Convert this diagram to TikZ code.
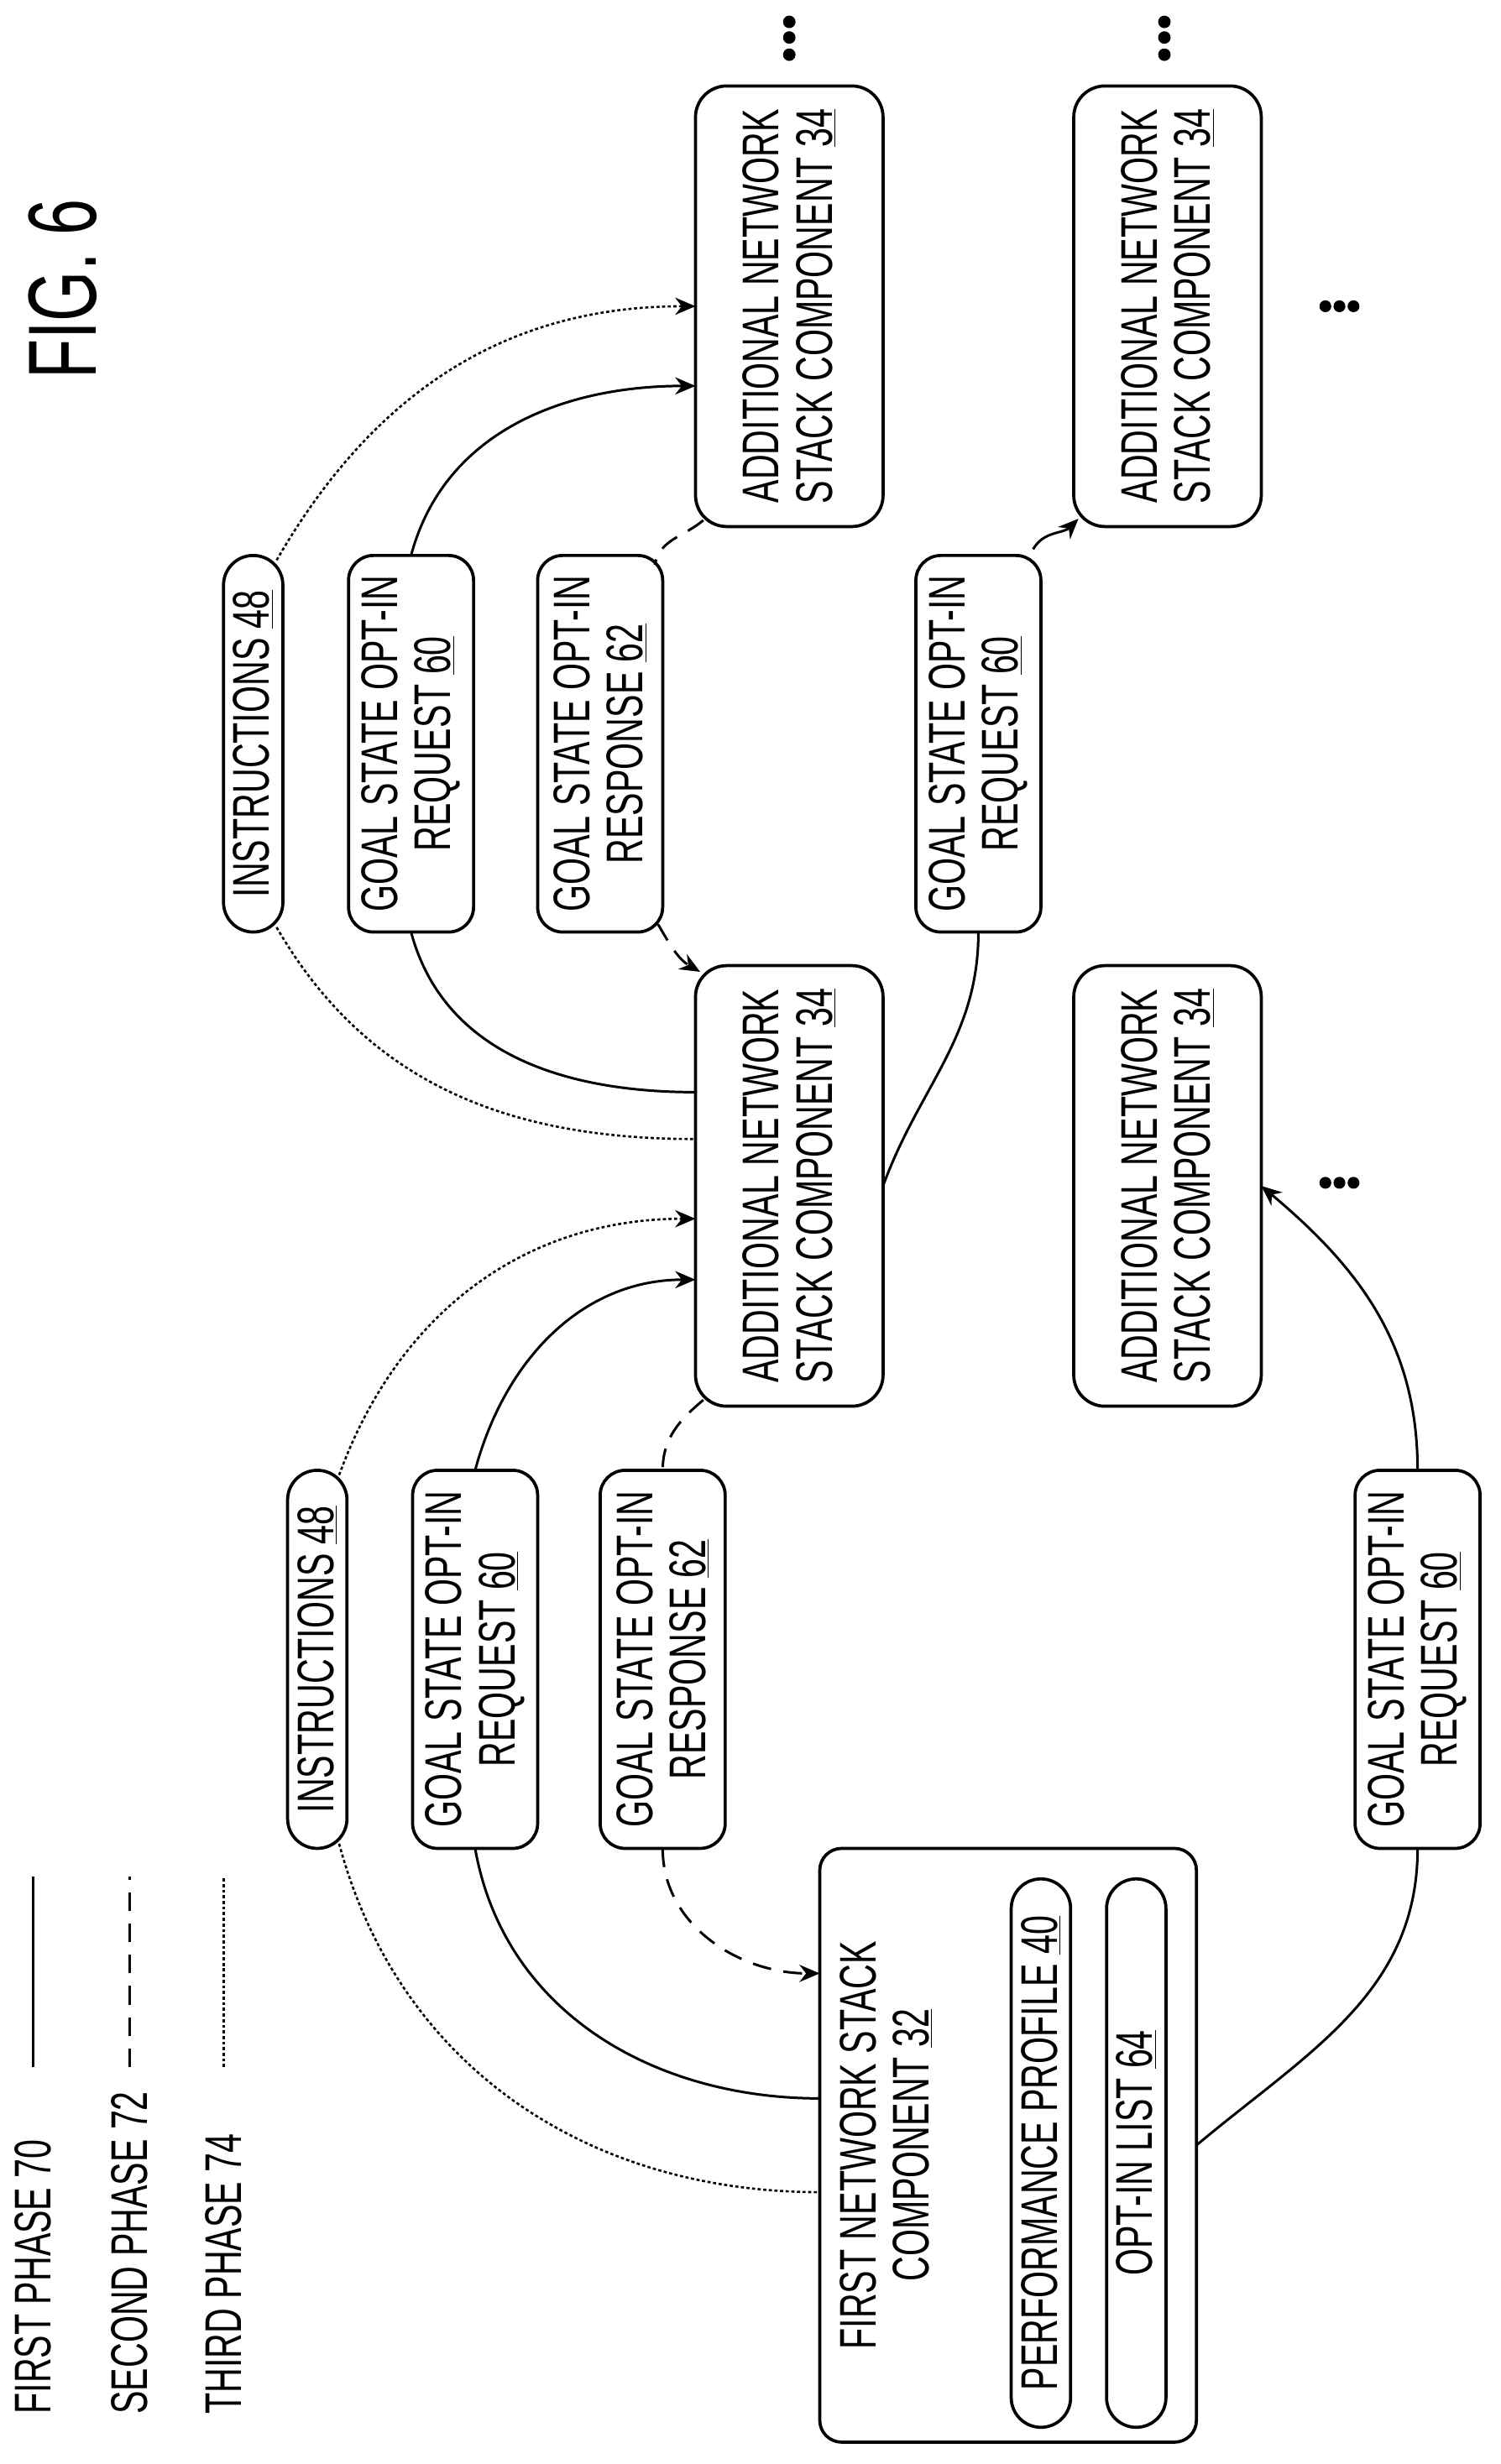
\documentclass[tikz,border=0pt]{standalone}
\usepackage{fontspec}
\setmainfont{Liberation Sans}[FakeStretch=0.67]
\usetikzlibrary{arrows.meta,calc}
\begin{document}
\begin{tikzpicture}[x=1pt,y=1pt,inner sep=0pt,outer sep=0pt,
font=\fontsize{33}{34}\selectfont,
phA/.style={line width=1.6pt},
phB/.style={line width=1.6pt,dash pattern=on 12pt off 8pt},
phC/.style={line width=1.4pt,dash pattern=on 2pt off 1.6pt},
tip/.style={-{Stealth[length=13pt,width=11pt]}},
comp/.style={draw,line width=2pt,rounded corners=20pt,rotate=90,align=center,minimum width=282pt,minimum height=120pt},
msg/.style={draw,line width=2pt,rounded corners=16pt,rotate=90,align=center,minimum width=242pt,minimum height=80pt},
pill/.style={draw,line width=2pt,rounded corners=19pt,rotate=90,align=center,minimum height=38pt},
legtxt/.style={rotate=90,anchor=west}]
\useasboundingbox (0,0) rectangle (960,-1577);

% title and legend
\node[rotate=90,font=\fontsize{62}{64}\selectfont] (fig) at (40,-185) {FIG. 6};
\node[legtxt] (legA) at (21,-1545) {FIRST PHASE 70};
\node[legtxt] (legB) at (83,-1545) {SECOND PHASE 72};
\node[legtxt] (legC) at (143,-1545) {THIRD PHASE 74};
\coordinate (legA1) at (21,-1323); \coordinate (legA2) at (21,-1201);
\coordinate (legB1) at (83,-1323); \coordinate (legB2) at (83,-1201);
\coordinate (legC1) at (143,-1323); \coordinate (legC2) at (143,-1201);
\draw[phA] (legA1) -- (legA2);
\draw[phB] (legB1) -- (legB2);
\draw[phC] (legC1) -- (legC2);

% first network stack component
\node[draw,line width=2pt,rounded corners=14pt,rotate=90,minimum width=380pt,minimum height=241pt] (first) at (645,-1373) {};
\node[rotate=90,align=center] (firsttxt) at (567,-1373) {FIRST NETWORK STACK\\COMPONENT \underline{32}};
\node[pill,minimum width=351pt] (perf) at (666,-1378) {PERFORMANCE PROFILE \underline{40}};
\node[pill,minimum width=351pt] (optin) at (727,-1378) {OPT-IN LIST \underline{64}};

% messages, lower row
\node[pill,minimum width=242pt] (instrA) at (203,-1062) {INSTRUCTIONS \underline{48}};
\node[msg] (reqA) at (304,-1062) {GOAL STATE OPT-IN\\REQUEST \underline{60}};
\node[msg] (respA) at (424,-1062) {GOAL STATE OPT-IN\\RESPONSE \underline{62}};
\node[msg] (reqC) at (907,-1062) {GOAL STATE OPT-IN\\REQUEST \underline{60}};

% additional components
\node[comp] (addMid) at (505,-759) {ADDITIONAL NETWORK\\STACK COMPONENT \underline{34}};
\node[comp] (addLow) at (747,-759) {ADDITIONAL NETWORK\\STACK COMPONENT \underline{34}};
\node[comp] (addTop) at (505,-196) {ADDITIONAL NETWORK\\STACK COMPONENT \underline{34}};
\node[comp] (addFar) at (747,-196) {ADDITIONAL NETWORK\\STACK COMPONENT \underline{34}};

% messages, upper row
\node[pill,minimum width=241pt] (instrB) at (162,-476) {INSTRUCTIONS \underline{48}};
\node[msg,minimum width=241pt] (reqB) at (263,-476) {GOAL STATE OPT-IN\\REQUEST \underline{60}};
\node[msg,minimum width=241pt] (respB) at (384,-476) {GOAL STATE OPT-IN\\RESPONSE \underline{62}};
\node[msg,minimum width=241pt] (reqD) at (626,-476) {GOAL STATE OPT-IN\\REQUEST \underline{60}};

% ellipsis marks
\foreach \px in {505,745} \foreach \py in {14,24,35} \fill (\px,-\py) circle (4pt);
\foreach \py in {196,757} \foreach \px in {848,857,866} \fill (\px,-\py) circle (3.8pt);

% first phase
\draw[phA] (reqA.west) to[out=-80,in=180] ($(first.north)+(0,30)$);
\draw[phA,tip] (reqA.east) to[out=75,in=180] ($(addMid.north)+(0,-60)$);
\draw[phA] ($(first.south)+(0,0)$) to[out=40,in=-90] (reqC.west);
\draw[phA,tip] (reqC.east) to[out=90,in=-40] (addLow.south);
\draw[phA] (reqB.west) to[out=-75,in=180] ($(addMid.north)+(0,60)$);
\draw[phA,tip] (reqB.east) to[out=75,in=180] ($(addTop.north)+(0,-51)$);
\draw[phA] (addMid.south) to[out=70,in=-90] (reqD.west);
\draw[phA,tip] ($(reqD.east)+(35,4)$) to[out=60,in=225] ($(addFar.north west)+(3,5)$);

% second phase
\draw[phB,tip] ($(respA.west)+(0,0)$) to[out=-90,in=180] ($(first.north)+(0,110)$);
\draw[phB] ($(addMid.north west)+(5,4)$) to[out=220,in=90] (respA.east);
\draw[phB,tip] ($(respB.west)+(37,5)$) to[out=-60,in=150] ($(addMid.north east)+(3,-4)$);
\draw[phB] ($(addTop.north west)+(5,4)$) to[out=220,in=80] ($(respB.east)+(35,-6)$);

% third phase
\draw[phC] ($(instrA.west)+(14,3)$) to[out=-75,in=180] ($(first.north)+(0,-30)$);
\draw[phC,tip] ($(instrA.east)+(14,-3)$) to[out=70,in=180] ($(addMid.north)+(0,-21)$);
\draw[phC] ($(instrB.west)+(15,3)$) to[out=-60,in=180] ($(addMid.north)+(0,30)$);
\draw[phC,tip] ($(instrB.east)+(15,-3)$) to[out=60,in=180] (addTop.north);
\end{tikzpicture}
\end{document}
